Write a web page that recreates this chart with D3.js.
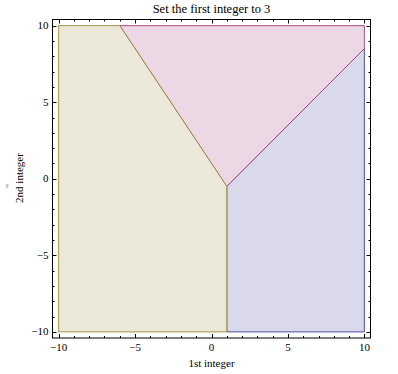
<!DOCTYPE html>
<html><head><meta charset="utf-8">
<script src="https://cdn.jsdelivr.net/npm/d3@7"></script>
<style>body{margin:0;background:#fff}svg{display:block}</style>
</head><body><svg id="c" width="398" height="374"></svg>
<script>
const title = "Set the first integer to 3";
const xLabel = "1st integer";
const yLabel = "2nd integer";
const majorTicks = [-10, -5, 0, 5, 10];
const minorTicks = [-9,-8,-7,-6,-4,-3,-2,-1,1,2,3,4,6,7,8,9];
const regionBlue = [[1,-10],[10,-10],[10,8.5],[1,-0.5]];
const regionPink = [[-6,10],[1,-0.5],[10,8.5],[10,10]];
const regionTan = [[-10,-10],[1,-10],[1,-0.5],[-6,10],[-10,10]];
const regions = [regionBlue, regionPink, regionTan];
const fills = ["#d9d9eb", "#ebd8e4", "#ebe8d9"];
const strokes = ["#3d3da3", "#a3407d", "#9c8a35"];

const FONT = "'Liberation Serif', 'Times New Roman', 'DejaVu Serif', serif";
const svg = d3.select("#c").attr("font-family", FONT);
const L = 52.5, R = 370.5, T = 19.5, B = 338;
const x = d3.scaleLinear().domain([-10.4, 10.4]).range([L, R]);
const y = d3.scaleLinear().domain([-10.4, 10.4]).range([B, T]);

const line = d3.line().x(d => x(d[0])).y(d => y(d[1]));
regions.forEach((r, i) => {
  svg.append("path").attr("d", line(r) + "Z")
    .attr("fill", fills[i]).attr("stroke", strokes[i]).attr("stroke-width", 0.9);
});

svg.append("rect").attr("x", L).attr("y", T).attr("width", R - L).attr("height", B - T)
  .attr("fill", "none").attr("stroke", "#000").attr("stroke-width", 1);

const tk = svg.append("g").attr("stroke", "#000").attr("stroke-width", 1);
function ticks(vals, len) {
  vals.forEach(v => {
    const px = Math.round(x(v)) + 0.5, py = Math.round(y(v)) + 0.5;
    tk.append("line").attr("x1", px).attr("x2", px).attr("y1", B).attr("y2", B - len);
    tk.append("line").attr("x1", px).attr("x2", px).attr("y1", T).attr("y2", T + len);
    tk.append("line").attr("y1", py).attr("y2", py).attr("x1", L).attr("x2", L + len);
    tk.append("line").attr("y1", py).attr("y2", py).attr("x1", R).attr("x2", R - len);
  });
}
ticks(majorTicks, 4);
ticks(minorTicks, 2);

const fmt = v => v < 0 ? "\u2212" + Math.abs(v) : String(v);
majorTicks.forEach(v => {
  svg.append("text").attr("x", x(v)).attr("y", B + 13).attr("text-anchor", "middle")
    .attr("font-size", 11).text(fmt(v));
  svg.append("text").attr("x", L - 4).attr("y", y(v) + 3.5).attr("text-anchor", "end")
    .attr("font-size", 11).text(fmt(v));
});

svg.append("text").attr("x", 211.5).attr("y", 13).attr("text-anchor", "middle")
  .attr("font-size", 12.5).text(title);
svg.append("text").attr("x", 211.5).attr("y", 367).attr("text-anchor", "middle")
  .attr("font-size", 11).text(xLabel);
svg.append("text").attr("transform", "translate(23,178) rotate(-90)").attr("text-anchor", "middle")
  .attr("font-size", 11).text(yLabel);
svg.append("text").attr("transform", "translate(13,186) rotate(-90)").attr("text-anchor", "middle")
  .attr("font-size", 11).attr("fill", "#6a6ab4").text("\"");
</script></body></html>
